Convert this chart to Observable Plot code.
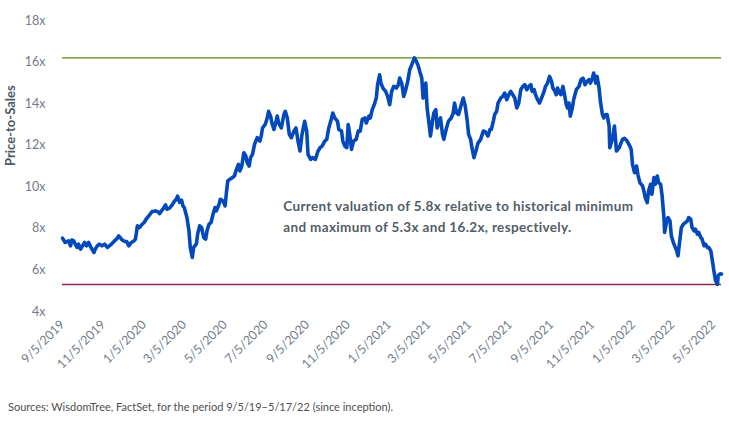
<!DOCTYPE html>
<html>
<head>
<meta charset="utf-8">
<script src="https://cdn.jsdelivr.net/npm/d3@7"></script>
<script src="https://cdn.jsdelivr.net/npm/@observablehq/plot@0.6"></script>
<style>
  body { margin: 0; background: #fff; }
  #wrap { position: relative; width: 729px; height: 422px; font-family: Lato, "Open Sans", sans-serif; }
  #source { position: absolute; left: 8px; top: 400px; font-size: 11px; color: #4f4f4f; white-space: nowrap; }
  .note text { letter-spacing: 0.35px; }
</style>
</head>
<body>
<div id="wrap">
  <div id="chart"></div>
  <div id="source">Sources: WisdomTree, FactSet, for the period 9/5/19–5/17/22 (since inception).</div>
</div>
<script>
// Price-to-sales multiple of the fund, 9/5/2019 – 5/17/2022
const dates = [
  "2019-09-05","2019-09-09","2019-09-14","2019-09-17","2019-09-19","2019-09-22","2019-09-24","2019-09-27","2019-09-29","2019-10-02",
  "2019-10-05","2019-10-08","2019-10-11","2019-10-14","2019-10-17","2019-10-19","2019-10-22","2019-10-24","2019-10-27","2019-10-30",
  "2019-11-03","2019-11-07","2019-11-11","2019-11-14","2019-11-18","2019-11-22","2019-11-26","2019-11-28","2019-12-01","2019-12-03",
  "2019-12-07","2019-12-10","2019-12-13","2019-12-17","2019-12-21","2019-12-23","2019-12-26","2019-12-29",
  "2020-01-01","2020-01-05","2020-01-08","2020-01-12","2020-01-17","2020-01-22","2020-01-26","2020-01-28","2020-01-31",
  "2020-02-03","2020-02-06","2020-02-08","2020-02-12","2020-02-16","2020-02-19","2020-02-22","2020-02-24","2020-02-27","2020-03-01","2020-03-03","2020-03-05",
  "2020-03-09","2020-03-12","2020-03-14","2020-03-17","2020-03-19","2020-03-23","2020-03-25","2020-03-28","2020-03-31",
  "2020-04-03","2020-04-06","2020-04-08","2020-04-11","2020-04-14","2020-04-17","2020-04-20","2020-04-22","2020-04-26","2020-04-28",
  "2020-05-02","2020-05-05","2020-05-07","2020-05-09","2020-05-12","2020-05-16","2020-05-19","2020-05-22","2020-05-25","2020-05-27","2020-05-30",
  "2020-06-02","2020-06-05","2020-06-07","2020-06-10","2020-06-12","2020-06-15","2020-06-18","2020-06-22","2020-06-26","2020-06-28","2020-06-30",
  "2020-07-04","2020-07-07","2020-07-09","2020-07-12","2020-07-14","2020-07-17","2020-07-19","2020-07-22","2020-07-24","2020-07-28",
  "2020-08-01","2020-08-03","2020-08-06","2020-08-09","2020-08-12","2020-08-16","2020-08-19","2020-08-22","2020-08-25","2020-08-28",
  "2020-09-01","2020-09-04","2020-09-06","2020-09-10","2020-09-13","2020-09-17","2020-09-21","2020-09-24","2020-09-27",
  "2020-10-01","2020-10-04","2020-10-07","2020-10-10","2020-10-13","2020-10-16","2020-10-20","2020-10-22","2020-10-26","2020-10-28","2020-10-31",
  "2020-11-03","2020-11-05","2020-11-07","2020-11-10","2020-11-13","2020-11-17","2020-11-20","2020-11-23","2020-11-26","2020-11-30",
  "2020-12-02","2020-12-06","2020-12-08","2020-12-11","2020-12-14","2020-12-17","2020-12-19","2020-12-22","2020-12-24","2020-12-27","2020-12-31",
  "2021-01-03","2021-01-06","2021-01-09","2021-01-12","2021-01-16","2021-01-19","2021-01-21","2021-01-24","2021-01-27","2021-01-30",
  "2021-02-02","2021-02-05","2021-02-09","2021-02-12","2021-02-15","2021-02-18","2021-02-20","2021-02-23","2021-02-25","2021-02-27",
  "2021-03-01","2021-03-03","2021-03-06","2021-03-08","2021-03-11","2021-03-13","2021-03-16","2021-03-18","2021-03-21","2021-03-23","2021-03-26","2021-03-28",
  "2021-04-01","2021-04-04","2021-04-08","2021-04-11","2021-04-13","2021-04-16","2021-04-19","2021-04-23","2021-04-26","2021-04-29",
  "2021-05-02","2021-05-04","2021-05-07","2021-05-09","2021-05-12","2021-05-15","2021-05-18","2021-05-22","2021-05-26","2021-05-29",
  "2021-06-02","2021-06-05","2021-06-07","2021-06-10","2021-06-12","2021-06-15","2021-06-17","2021-06-21","2021-06-24","2021-06-27","2021-06-30",
  "2021-07-03","2021-07-06","2021-07-09","2021-07-12","2021-07-15","2021-07-18","2021-07-21","2021-07-24","2021-07-27","2021-07-30",
  "2021-08-02","2021-08-05","2021-08-07","2021-08-10","2021-08-12","2021-08-15","2021-08-18","2021-08-21","2021-08-24","2021-08-27","2021-08-30",
  "2021-09-02","2021-09-05","2021-09-07","2021-09-10","2021-09-12","2021-09-14","2021-09-17","2021-09-19","2021-09-22","2021-09-24","2021-09-27","2021-09-29",
  "2021-10-01","2021-10-03","2021-10-06","2021-10-08","2021-10-12","2021-10-16","2021-10-19","2021-10-22","2021-10-25","2021-10-28","2021-10-31",
  "2021-11-02","2021-11-05","2021-11-07","2021-11-10","2021-11-12","2021-11-15","2021-11-17","2021-11-20","2021-11-22","2021-11-25","2021-11-27","2021-11-30",
  "2021-12-01","2021-12-04","2021-12-06","2021-12-08","2021-12-11","2021-12-15","2021-12-17","2021-12-20","2021-12-23","2021-12-27","2021-12-31",
  "2022-01-02","2022-01-04","2022-01-07","2022-01-10","2022-01-12","2022-01-15","2022-01-19","2022-01-21","2022-01-23","2022-01-26","2022-01-28","2022-01-31",
  "2022-02-02","2022-02-05","2022-02-07","2022-02-10","2022-02-12","2022-02-15","2022-02-17","2022-02-20","2022-02-21","2022-02-24","2022-02-26",
  "2022-03-01","2022-03-03","2022-03-06","2022-03-08","2022-03-11","2022-03-13","2022-03-15","2022-03-18","2022-03-21","2022-03-24","2022-03-27","2022-03-29",
  "2022-04-01","2022-04-03","2022-04-06","2022-04-08","2022-04-11","2022-04-13","2022-04-16","2022-04-18","2022-04-21","2022-04-23","2022-04-26","2022-04-28",
  "2022-05-01","2022-05-03","2022-05-06","2022-05-08","2022-05-11","2022-05-12","2022-05-15","2022-05-17"
];

const values = [
  7.53,7.32,7.40,7.16,7.44,7.40,7.24,7.08,7.24,7.00,
  7.16,7.32,7.16,7.32,7.12,7.00,6.84,7.00,7.16,7.24,
  7.16,7.24,7.08,7.16,7.27,7.40,7.53,7.64,7.53,7.44,
  7.37,7.37,7.16,7.32,7.40,7.48,8.12,8.04,
  8.16,8.28,8.44,8.60,8.81,8.84,8.79,8.71,8.84,
  8.97,9.13,8.92,8.97,9.13,9.29,9.40,9.55,9.25,9.36,9.08,9.00,
  8.52,7.88,7.08,6.60,7.08,7.24,7.72,8.12,8.04,
  7.56,7.48,7.88,8.20,8.28,8.68,9.00,8.84,9.16,9.40,
  9.32,9.08,9.72,10.28,10.36,10.44,10.52,10.84,11.08,10.76,11.00,
  11.64,11.48,11.16,11.00,11.40,11.56,12.04,12.36,12.20,12.44,12.83,
  13.00,13.31,13.63,13.40,13.07,12.76,13.00,13.40,13.07,12.83,
  13.48,13.63,13.31,12.52,12.36,12.68,12.83,12.20,11.72,12.52,
  13.15,12.68,11.56,11.32,11.40,11.32,11.72,11.88,11.96,
  12.20,12.28,12.83,13.16,13.55,13.31,13.16,12.76,12.68,12.20,11.96,
  11.88,13.00,12.60,11.80,12.20,12.28,12.68,12.68,13.24,13.31,
  13.07,13.40,13.31,13.71,13.95,14.27,14.91,15.39,14.99,14.75,14.59,
  14.35,13.95,14.59,14.83,14.75,14.91,15.23,14.99,14.35,14.67,
  15.07,15.63,15.95,16.20,16.03,15.79,15.55,15.23,14.27,14.35,
  14.99,13.79,13.00,12.44,13.16,13.55,13.71,12.83,13.16,13.31,12.52,12.28,
  12.83,13.16,13.31,13.55,14.03,13.55,13.48,13.95,14.27,13.88,
  13.16,12.52,12.28,11.88,11.40,11.72,12.10,12.28,12.68,12.65,
  12.44,12.76,12.76,13.16,13.48,13.63,14.03,14.27,14.35,14.51,14.19,
  14.43,14.59,14.43,14.27,13.79,14.03,14.67,14.83,14.91,14.67,
  14.83,14.91,14.59,14.67,14.43,14.19,14.03,14.27,14.51,14.83,14.99,
  15.31,15.07,14.75,14.59,14.43,14.75,14.51,14.43,14.83,14.51,13.95,13.79,
  14.03,13.40,13.79,14.19,14.67,14.83,15.15,15.23,14.91,15.07,15.15,
  14.99,15.23,15.47,14.99,15.31,14.75,14.11,13.48,13.31,13.48,13.48,12.92,
  11.88,12.20,12.52,12.92,11.72,11.88,12.04,12.28,12.33,12.20,11.96,
  11.80,11.08,10.68,11.00,10.60,10.20,10.04,9.80,9.48,9.24,9.80,10.12,
  9.64,10.44,10.12,10.52,10.20,10.12,9.64,8.52,7.80,8.36,8.52,
  8.36,7.64,7.32,7.16,6.92,6.68,7.24,8.04,8.20,8.28,8.36,8.52,
  8.44,8.04,7.88,7.96,7.72,7.80,7.56,7.48,7.16,7.24,7.08,7.08,
  6.92,6.52,5.88,5.49,5.30,5.73,5.81,5.80
];

// Reference levels quoted in the annotation
const currentValue = 5.8;
const historicalMin = 5.3;
const historicalMax = 16.2;

const xTickLabels = [
  "9/5/2019","11/5/2019","1/5/2020","3/5/2020","5/5/2020","7/5/2020","9/5/2020","11/5/2020",
  "1/5/2021","3/5/2021","5/5/2021","7/5/2021","9/5/2021","11/5/2021","1/5/2022","3/5/2022","5/5/2022"
];
const yTicks = [4, 6, 8, 10, 12, 14, 16, 18];

const parseIso = d3.utcParse("%Y-%m-%d");
const parseMdy = d3.utcParse("%m/%d/%Y");
const formatMdy = d3.utcFormat("%-m/%-d/%Y");

const rows = dates.map((d, i) => ({date: parseIso(d), value: values[i]}));
const xTicks = xTickLabels.map(parseMdy);

const note = `Current valuation of ${currentValue}x relative to historical minimum\nand maximum of ${historicalMin}x and ${historicalMax}x, respectively.`;

const chart = Plot.plot({
  width: 729,
  height: 380,
  marginTop: 20,
  marginLeft: 62,
  marginRight: 8,
  marginBottom: 69,
  style: {fontFamily: "Lato, 'Open Sans', sans-serif", fontSize: "12.5px", color: "#737c87", background: "#fff", overflow: "visible"},
  x: {
    type: "utc",
    domain: [rows[0].date, rows[rows.length - 1].date],
    ticks: xTicks,
    tickFormat: formatMdy,
    tickRotate: -45,
    tickSize: 0,
    tickPadding: 11,
    label: null
  },
  y: {
    domain: [4, 18],
    ticks: yTicks,
    tickFormat: d => `${d}x`,
    tickSize: 0,
    tickPadding: 17,
    label: null
  },
  marks: [
    Plot.ruleY([historicalMax], {stroke: "#5b8a0c", strokeWidth: 1.4}),
    Plot.ruleY([historicalMin], {stroke: "#8c2b4b", strokeWidth: 1.5}),
    Plot.lineY(rows, {x: "date", y: "value", stroke: "#0449bb", strokeWidth: 3.6, strokeLinejoin: "round"}),
    Plot.text([note], {
      x: () => parseIso("2020-07-31"),
      y: () => 9.55,
      text: d => d,
      textAnchor: "start",
      lineAnchor: "top",
      lineHeight: 1.55,
      fontSize: 13.5,
      fontWeight: "bold",
      fill: "#535d67",
      className: "note"
    }),
    Plot.text(["Price-to-Sales"], {
      frameAnchor: "left",
      dx: -52,
      rotate: -90,
      fontSize: 13,
      fontWeight: "bold",
      fill: "#4d5864"
    })
  ]
});

document.getElementById("chart").appendChild(chart);
</script>
</body>
</html>
